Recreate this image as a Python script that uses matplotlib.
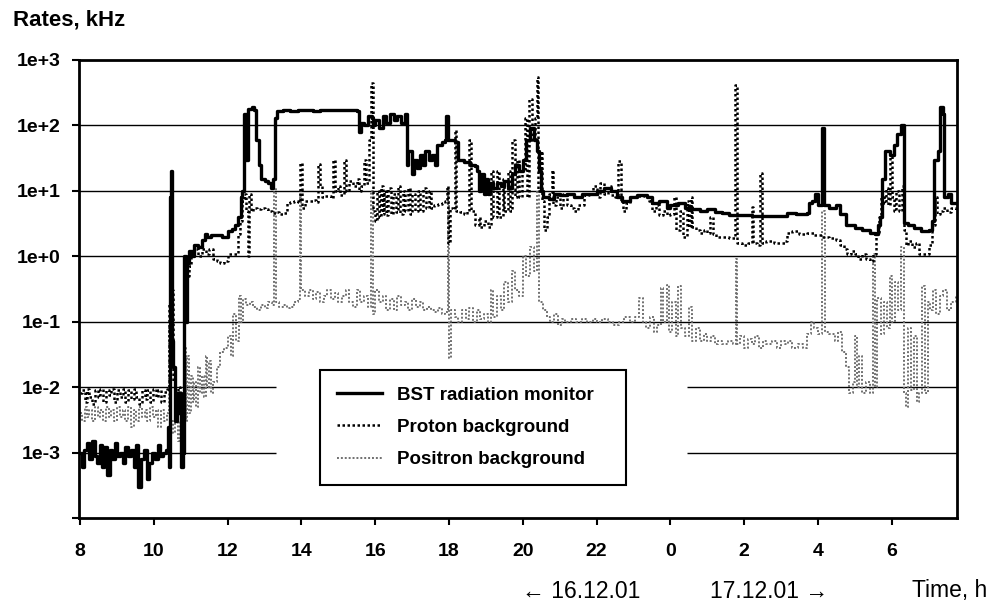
import numpy as np
import matplotlib
matplotlib.use('Agg')
import matplotlib.pyplot as plt
from matplotlib.ticker import NullLocator

plt.rcParams['font.family'] = ['Liberation Sans', 'DejaVu Sans']

# Zeit in Stunden ab 16.12.01 0:00 (Werte > 24 gehoeren zum 17.12.01), Raten in kHz
bst = [
    (8.00, 1.0e-3), (8.05, 6e-4), (8.10, 1.1e-3), (8.18, 1.4e-3), (8.25, 8e-4),
    (8.32, 1.5e-3), (8.40, 9e-4), (8.47, 7e-4), (8.53, 1.3e-3), (8.60, 6e-4),
    (8.66, 1.2e-3), (8.72, 4.5e-4), (8.80, 1.1e-3), (8.87, 8e-4), (8.94, 1.4e-3),
    (9.00, 9e-4), (9.08, 1.0e-3), (9.15, 7e-4), (9.22, 1.2e-3), (9.30, 9e-4),
    (9.37, 1.1e-3), (9.45, 6e-4), (9.52, 1.3e-3), (9.58, 3e-4), (9.65, 8e-4),
    (9.72, 1.1e-3), (9.80, 4e-4), (9.87, 7e-4), (9.95, 1.0e-3), (10.02, 8e-4),
    (10.10, 1.3e-3), (10.17, 9e-4), (10.25, 1.0e-3), (10.32, 1.1e-3), (10.38, 2.5e-3),
    (10.41, 6e-4), (10.43, 8.0), (10.46, 20.0), (10.49, 0.05), (10.53, 0.02),
    (10.58, 3e-3), (10.62, 8e-3), (10.66, 4e-3), (10.70, 8e-3), (10.74, 6e-4),
    (10.78, 1.0e-3), (10.82, 1.0), (10.86, 0.1), (10.90, 0.8), (10.95, 1.2),
    (11.02, 1.0), (11.10, 1.5), (11.20, 1.4), (11.30, 1.8), (11.38, 2.2),
    (11.45, 2.0), (11.55, 2.1), (11.70, 2.1), (11.85, 2.0), (12.00, 2.4),
    (12.12, 2.6), (12.20, 3.0), (12.28, 4.0), (12.35, 8.0), (12.40, 10.0),
    (12.45, 150), (12.50, 30), (12.56, 180), (12.66, 190), (12.72, 170),
    (12.78, 60), (12.85, 25), (12.90, 15), (13.00, 14), (13.10, 13),
    (13.18, 11), (13.24, 15), (13.28, 130), (13.33, 165), (13.50, 170),
    (13.70, 165), (13.90, 175), (14.10, 170), (14.30, 165), (14.50, 170),
    (14.70, 175), (14.90, 170), (15.10, 175), (15.30, 170), (15.50, 165),
    (15.55, 80), (15.62, 110), (15.70, 100), (15.80, 140), (15.90, 130),
    (15.95, 100), (16.00, 120), (16.10, 90), (16.20, 140), (16.30, 110),
    (16.40, 150), (16.50, 120), (16.60, 140), (16.70, 110), (16.80, 150),
    (16.86, 25), (16.90, 40), (17.00, 18), (17.05, 30), (17.12, 22),
    (17.20, 35), (17.30, 25), (17.35, 40), (17.45, 30), (17.55, 35),
    (17.62, 25), (17.67, 50), (17.80, 55), (17.90, 60), (17.93, 140),
    (17.97, 60), (18.05, 60), (18.15, 55), (18.24, 30), (18.40, 28),
    (18.57, 25), (18.70, 24), (18.76, 20), (18.82, 10), (18.88, 18),
    (18.95, 9), (19.00, 15), (19.05, 9), (19.12, 13), (19.20, 11),
    (19.30, 13), (19.40, 12), (19.50, 14), (19.60, 11), (19.70, 18),
    (19.80, 25), (19.90, 20), (20.00, 30), (20.10, 60), (20.20, 90),
    (20.30, 60), (20.38, 40), (20.45, 20), (20.50, 10), (20.55, 8),
    (20.70, 7.5), (20.85, 9), (21.00, 8.5), (21.20, 9), (21.40, 8),
    (21.60, 9), (21.80, 9), (22.00, 10), (22.20, 11), (22.40, 10),
    (22.55, 8), (22.70, 7), (22.90, 8), (23.10, 8.5), (23.37, 8),
    (23.50, 6.5), (23.70, 7), (23.90, 5.5), (24.00, 6), (24.20, 6.5),
    (24.40, 5.5), (24.60, 5.2), (24.80, 5.0), (25.00, 5.2), (25.20, 4.8),
    (25.40, 4.6), (25.60, 4.3), (25.80, 4.2), (26.20, 4.1), (26.70, 4.1),
    (27.10, 4.1), (27.15, 4.6), (27.40, 4.5), (27.70, 4.6), (27.75, 6.5),
    (27.85, 7), (27.92, 9), (28.00, 6), (28.12, 90), (28.17, 6),
    (28.30, 5.5), (28.50, 6), (28.60, 4.5), (28.75, 3.0), (29.00, 2.7),
    (29.20, 2.5), (29.40, 2.3), (29.55, 2.2), (29.62, 3.0), (29.68, 4),
    (29.75, 15), (29.82, 40), (29.95, 35), (30.05, 50), (30.15, 75),
    (30.25, 100), (30.32, 3.2), (30.45, 3.0), (30.60, 2.7), (30.80, 2.4),
    (31.00, 2.5), (31.10, 3.5), (31.16, 30), (31.25, 40), (31.30, 190),
    (31.38, 150), (31.42, 8), (31.52, 9), (31.60, 6.5), (31.75, 6.5),
]

proton = [
    (8.00, 0.008), (8.06, 0.009), (8.12, 0.006), (8.18, 0.0095), (8.25, 0.007),
    (8.32, 0.0055), (8.40, 0.009), (8.48, 0.007), (8.55, 0.0095), (8.62, 0.006),
    (8.70, 0.009), (8.78, 0.0075), (8.85, 0.0095), (8.92, 0.006), (9.00, 0.009),
    (9.08, 0.007), (9.15, 0.0095), (9.22, 0.006), (9.30, 0.009), (9.38, 0.0065),
    (9.45, 0.0095), (9.52, 0.007), (9.60, 0.0055), (9.68, 0.009), (9.75, 0.0065),
    (9.82, 0.009), (9.90, 0.006), (9.98, 0.0095), (10.05, 0.007), (10.12, 0.009),
    (10.20, 0.006), (10.28, 0.0085), (10.35, 0.0095), (10.42, 0.2), (10.44, 8),
    (10.48, 0.3), (10.52, 0.012), (10.58, 0.006), (10.65, 0.01), (10.72, 0.005),
    (10.78, 0.008), (10.82, 0.3), (10.86, 0.18), (10.90, 0.5), (10.95, 0.7),
    (11.00, 1.0), (11.10, 1.3), (11.20, 1.0), (11.30, 1.3), (11.40, 1.1),
    (11.50, 1.3), (11.60, 0.9), (11.70, 0.85), (11.80, 0.8), (11.90, 0.85),
    (12.00, 1.1), (12.10, 1.1), (12.20, 1.1), (12.28, 2.2), (12.34, 3.5),
    (12.40, 7), (12.45, 9), (12.50, 5), (12.55, 1.0), (12.58, 9),
    (12.62, 5), (12.70, 5.5), (12.80, 5.2), (12.90, 5.5), (13.00, 5.2),
    (13.10, 5.0), (13.20, 4.6), (13.30, 4.7), (13.40, 4.5), (13.50, 4.6),
    (13.60, 6.5), (13.70, 6.8), (13.80, 7), (13.90, 6.8), (13.95, 27),
    (14.02, 5.5), (14.10, 7), (14.20, 7), (14.30, 7.2), (14.40, 6.8),
    (14.45, 26), (14.50, 12), (14.55, 8), (14.65, 8.2), (14.80, 7.8),
    (14.85, 30), (14.90, 10), (15.00, 12), (15.05, 8.5), (15.15, 30),
    (15.20, 10), (15.30, 14), (15.40, 12), (15.50, 15), (15.55, 10),
    (15.62, 12), (15.70, 30), (15.75, 13), (15.82, 60), (15.88, 450),
    (15.95, 5), (16.00, 3.5), (16.05, 10), (16.10, 4), (16.15, 12),
    (16.20, 4.5), (16.25, 10), (16.30, 4.2), (16.35, 11), (16.42, 4.5),
    (16.48, 9), (16.55, 4.8), (16.62, 12), (16.68, 4.5), (16.75, 10),
    (16.82, 5), (16.88, 11), (16.95, 4.5), (17.00, 9), (17.08, 5),
    (17.15, 10), (17.22, 5), (17.30, 11), (17.37, 5.5), (17.45, 10),
    (17.52, 5.5), (17.60, 6), (17.70, 6.2), (17.80, 6.5), (17.90, 7),
    (17.95, 12), (17.98, 1.6), (18.02, 5.5), (18.10, 5.2), (18.15, 85),
    (18.20, 5), (18.30, 4.8), (18.40, 4.5), (18.50, 5), (18.55, 60),
    (18.60, 5), (18.70, 3), (18.80, 4), (18.85, 2.8), (18.95, 3.5),
    (19.05, 2.8), (19.12, 2.8), (19.15, 20), (19.20, 4), (19.30, 20),
    (19.35, 4), (19.45, 15), (19.50, 5), (19.60, 20), (19.65, 5),
    (19.72, 60), (19.78, 8), (19.85, 30), (19.90, 8), (19.97, 20),
    (20.05, 130), (20.12, 8), (20.18, 250), (20.25, 60), (20.32, 130),
    (20.38, 550), (20.42, 10), (20.48, 40), (20.52, 7), (20.58, 2.5),
    (20.65, 4), (20.72, 9), (20.78, 21), (20.82, 6), (20.90, 8),
    (21.00, 5.5), (21.10, 9), (21.20, 6), (21.30, 5.5), (21.40, 5),
    (21.50, 6), (21.65, 8.5), (21.80, 9), (21.90, 12), (22.00, 8),
    (22.10, 13), (22.20, 9), (22.30, 12), (22.40, 8.5), (22.50, 8),
    (22.58, 29), (22.65, 7), (22.72, 5), (22.80, 6.5), (22.90, 8),
    (23.10, 8.2), (23.30, 8), (23.42, 7), (23.50, 5), (23.60, 6),
    (23.70, 4.2), (23.80, 5), (23.90, 4.2), (24.00, 4.5), (24.10, 8),
    (24.15, 2.5), (24.25, 5), (24.35, 2), (24.45, 7), (24.50, 2.8),
    (24.55, 8), (24.60, 2.8), (24.70, 2.5), (24.80, 2.3), (24.90, 2.5),
    (25.00, 2.3), (25.08, 4), (25.15, 2.2), (25.25, 2.0), (25.40, 2.0),
    (25.60, 1.9), (25.75, 410), (25.80, 1.6), (25.95, 1.5), (26.10, 1.6),
    (26.20, 5.6), (26.25, 1.6), (26.35, 1.5), (26.42, 19), (26.48, 1.6),
    (26.60, 1.7), (26.80, 1.6), (27.00, 1.6), (27.10, 1.7), (27.15, 2.3),
    (27.30, 2.4), (27.50, 2.2), (27.70, 2.3), (27.90, 2.1), (28.10, 2.0),
    (28.30, 1.9), (28.50, 1.8), (28.60, 1.5), (28.70, 1.3), (28.80, 1.1),
    (28.90, 1.2), (29.00, 1.1), (29.10, 0.9), (29.20, 1.1), (29.30, 0.9),
    (29.40, 0.85), (29.50, 1.1), (29.58, 2.2), (29.65, 4), (29.72, 8),
    (29.80, 6.5), (29.85, 11), (29.90, 6), (29.95, 37), (30.00, 8),
    (30.05, 5), (30.12, 10), (30.20, 5), (30.28, 12), (30.32, 2.5),
    (30.38, 1.5), (30.45, 1.7), (30.55, 1.4), (30.65, 1.6), (30.75, 1.1),
    (30.90, 1.1), (31.02, 1.5), (31.10, 3), (31.17, 8), (31.22, 4.5),
    (31.30, 5), (31.40, 5.5), (31.50, 4.8), (31.60, 5.5), (31.75, 5),
]

positron = [
    (8.00, 0.004), (8.06, 0.003), (8.12, 0.005), (8.18, 0.0035), (8.25, 0.0045),
    (8.32, 0.003), (8.40, 0.005), (8.48, 0.0035), (8.55, 0.0045), (8.62, 0.003),
    (8.70, 0.005), (8.78, 0.0035), (8.85, 0.0045), (8.92, 0.003), (9.00, 0.005),
    (9.08, 0.0035), (9.15, 0.0045), (9.22, 0.003), (9.30, 0.005), (9.38, 0.0025),
    (9.45, 0.0045), (9.52, 0.003), (9.60, 0.005), (9.68, 0.0035), (9.75, 0.0045),
    (9.82, 0.003), (9.90, 0.005), (9.98, 0.0035), (10.05, 0.0045), (10.12, 0.0025),
    (10.20, 0.0045), (10.28, 0.003), (10.35, 0.004), (10.42, 0.08), (10.46, 0.003),
    (10.52, 0.002), (10.58, 0.004), (10.65, 0.0015), (10.72, 0.003), (10.78, 0.002),
    (10.82, 0.04), (10.86, 0.003), (10.90, 0.03), (10.95, 0.004), (11.00, 0.015),
    (11.05, 0.006), (11.10, 0.012), (11.15, 0.005), (11.20, 0.02), (11.25, 0.008),
    (11.30, 0.015), (11.35, 0.007), (11.40, 0.03), (11.45, 0.01), (11.50, 0.025),
    (11.55, 0.008), (11.60, 0.012), (11.70, 0.02), (11.80, 0.035), (11.90, 0.04),
    (12.00, 0.06), (12.08, 0.03), (12.15, 0.13), (12.22, 0.05), (12.30, 0.25),
    (12.35, 0.1), (12.42, 0.22), (12.50, 0.18), (12.60, 0.2), (12.70, 0.17),
    (12.80, 0.15), (12.90, 0.18), (13.00, 0.16), (13.10, 0.2), (13.20, 0.18),
    (13.25, 11), (13.30, 0.2), (13.40, 0.17), (13.50, 0.18), (13.60, 0.16),
    (13.70, 0.17), (13.80, 0.2), (13.90, 0.22), (13.95, 10), (14.00, 0.3),
    (14.10, 0.25), (14.20, 0.3), (14.30, 0.22), (14.40, 0.28), (14.50, 0.2),
    (14.60, 0.25), (14.70, 0.3), (14.80, 0.22), (14.90, 0.27), (15.00, 0.2),
    (15.10, 0.25), (15.20, 0.3), (15.30, 0.2), (15.40, 0.17), (15.50, 0.3),
    (15.60, 0.2), (15.70, 0.25), (15.80, 0.17), (15.88, 10), (15.95, 0.13),
    (16.00, 0.3), (16.10, 0.2), (16.20, 0.25), (16.30, 0.15), (16.40, 0.22),
    (16.50, 0.15), (16.60, 0.25), (16.70, 0.18), (16.80, 0.2), (16.90, 0.15),
    (17.00, 0.22), (17.10, 0.17), (17.20, 0.2), (17.30, 0.15), (17.40, 0.17),
    (17.50, 0.15), (17.60, 0.14), (17.70, 0.16), (17.80, 0.13), (17.90, 0.14),
    (17.97, 11), (18.00, 0.028), (18.05, 0.15), (18.15, 0.12), (18.25, 0.1),
    (18.35, 0.15), (18.45, 0.11), (18.55, 0.16), (18.65, 0.1), (18.75, 0.15),
    (18.85, 0.11), (18.95, 0.13), (19.05, 0.1), (19.15, 0.3), (19.20, 0.12),
    (19.30, 0.25), (19.40, 0.15), (19.50, 0.4), (19.60, 0.2), (19.70, 0.6),
    (19.80, 0.3), (19.90, 0.25), (20.00, 1.0), (20.10, 0.5), (20.20, 1.4),
    (20.30, 0.6), (20.38, 10), (20.45, 0.2), (20.55, 0.15), (20.65, 0.12),
    (20.75, 0.1), (20.85, 0.13), (20.95, 0.09), (21.05, 0.11), (21.15, 0.1),
    (21.30, 0.11), (21.45, 0.1), (21.60, 0.11), (21.75, 0.1), (21.90, 0.11),
    (22.00, 0.1), (22.15, 0.11), (22.30, 0.1), (22.45, 0.09), (22.60, 0.1),
    (22.75, 0.12), (22.90, 0.1), (23.05, 0.12), (23.15, 0.23), (23.25, 0.1),
    (23.35, 0.08), (23.45, 0.12), (23.55, 0.07), (23.65, 0.09), (23.75, 0.33),
    (23.80, 0.1), (23.90, 0.37), (23.95, 0.07), (24.05, 0.2), (24.15, 0.06),
    (24.20, 0.35), (24.30, 0.08), (24.40, 0.06), (24.50, 0.17), (24.60, 0.05),
    (24.70, 0.08), (24.80, 0.05), (24.90, 0.065), (25.00, 0.05), (25.10, 0.06),
    (25.20, 0.045), (25.30, 0.05), (25.40, 0.045), (25.55, 0.05), (25.70, 0.045),
    (25.78, 0.9), (25.82, 0.045), (25.90, 0.06), (26.00, 0.04), (26.10, 0.055),
    (26.20, 0.045), (26.30, 0.06), (26.40, 0.04), (26.50, 0.05), (26.60, 0.045),
    (26.75, 0.05), (26.90, 0.04), (27.00, 0.05), (27.10, 0.045), (27.20, 0.05),
    (27.30, 0.04), (27.45, 0.045), (27.60, 0.04), (27.70, 0.065), (27.80, 0.1),
    (27.90, 0.08), (28.00, 0.065), (28.12, 5), (28.18, 0.07), (28.30, 0.065),
    (28.45, 0.05), (28.55, 0.07), (28.65, 0.035), (28.75, 0.02), (28.85, 0.008),
    (28.95, 0.012), (29.00, 0.06), (29.05, 0.01), (29.12, 0.03), (29.20, 0.008),
    (29.30, 0.012), (29.40, 0.008), (29.48, 1.1), (29.55, 0.01), (29.60, 0.23),
    (29.70, 0.065), (29.80, 0.2), (29.88, 0.08), (29.95, 0.5), (30.02, 0.1),
    (30.10, 0.4), (30.18, 0.15), (30.25, 1.4), (30.32, 0.008), (30.38, 0.005),
    (30.45, 0.08), (30.52, 0.009), (30.60, 0.06), (30.68, 0.006), (30.75, 0.008),
    (30.82, 0.35), (30.90, 0.008), (30.98, 0.2), (31.05, 0.15), (31.12, 0.3),
    (31.20, 0.13), (31.30, 0.25), (31.40, 0.3), (31.50, 0.15), (31.60, 0.2),
    (31.75, 0.25),
]

tick_hours = [8, 10, 12, 14, 16, 18, 20, 22, 24, 26, 28, 30]
tick_labels = ['8', '10', '12', '14', '16', '18', '20', '22', '0', '2', '4', '6']
decades = [1e-4, 1e-3, 1e-2, 1e-1, 1e0, 1e1, 1e2, 1e3]
decade_labels = ['', '1e-3', '1e-2', '1e-1', '1e+0', '1e+1', '1e+2', '1e+3']

bst_t, bst_v = np.array(bst).T
pro_t, pro_v = np.array(proton).T
pos_t, pos_v = np.array(positron).T

fig = plt.figure(figsize=(9.95, 6.07), dpi=100)
ax = fig.add_axes([0.0794, 0.1466, 0.8824, 0.7546])
ax.set_yscale('log')
ax.set_xlim(7.97, 31.77)
ax.set_ylim(1e-4, 1e3)

# Gitterlinien; unten ist hinter der Legende eine Luecke
for d in decades[1:-1]:
    if d < 0.05:
        ax.hlines(d, 7.97, 13.31, color='k', lw=1.0, zorder=1)
        ax.hlines(d, 24.45, 31.77, color='k', lw=1.0, zorder=1)
    else:
        ax.axhline(d, color='k', lw=1.0, zorder=1)

ax.plot(pos_t, pos_v, drawstyle='steps-post', color='#707070', lw=1.4,
        linestyle=(0, (1, 1)), zorder=2, label='Positron background')
ax.plot(bst_t, bst_v, drawstyle='steps-post', color='black', lw=2.4,
        zorder=3, label='BST radiation monitor')
ax.plot(pro_t, pro_v, drawstyle='steps-post', color='black', lw=1.8,
        linestyle=(0, (1, 1)), zorder=4, label='Proton background')

ax.set_xticks(tick_hours, tick_labels)
ax.set_yticks(decades, decade_labels)
ax.yaxis.set_minor_locator(NullLocator())
ax.tick_params(axis='both', direction='out', length=5, width=1.5,
               labelsize=14)
ax.tick_params(axis='x', pad=13)
ax.tick_params(axis='y', pad=8)
for lab in ax.get_xticklabels() + ax.get_yticklabels():
    lab.set_fontweight('bold')
for sp in ax.spines.values():
    sp.set_linewidth(2)

h, l = ax.get_legend_handles_labels()
order = [1, 2, 0]
leg = ax.legend([h[i] for i in order], [l[i] for i in order],
                loc='upper left', bbox_to_anchor=(320/995, 1-376/607, 306/995, 0.01),
                bbox_transform=fig.transFigure, mode='expand', borderaxespad=0,
                fancybox=False, framealpha=1, edgecolor='black',
                prop={'weight': 'bold', 'size': 13.5}, handlelength=2.4,
                handletextpad=0.8, labelspacing=0.8, borderpad=0.9)
leg.get_frame().set_linewidth(1.5)

fig.text(13/995, 1-20/607, 'Rates, kHz', ha='left', va='center',
         fontsize=16, fontweight='bold')
fig.text(522/995, 1-591/607, '← 16.12.01', ha='left', va='center', fontsize=16.5)
fig.text(710/995, 1-591/607, '17.12.01 →', ha='left', va='center', fontsize=16.5)
fig.text(987/995, 1-591/607, 'Time, h', ha='right', va='center', fontsize=16.5)

fig.savefig('out.png', dpi=100)
